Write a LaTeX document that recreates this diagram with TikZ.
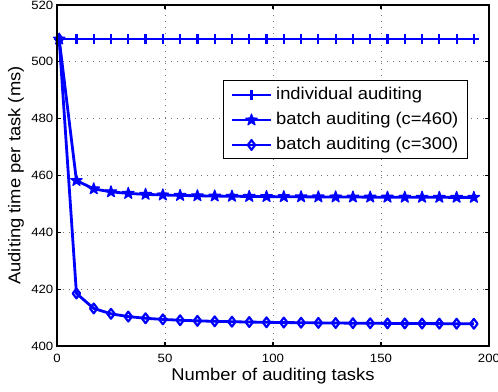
\documentclass[tikz,border=0pt]{standalone}
\usepackage{fontspec}
\setmainfont{Liberation Sans}
\usepackage{graphicx}
\usetikzlibrary{plotmarks}
\definecolor{mblue}{RGB}{0,0,255}
\newcommand{\tickfont}{\fontsize{12}{14}\selectfont}
\newcommand{\labfont}{\fontsize{17}{20}\selectfont}
\newcommand{\wtick}[1]{\scalebox{1.1}[1]{\tickfont #1}}
\newcommand{\wlab}[1]{\scalebox{1.08}[1]{\labfont #1}}
\pgfdeclareplotmark{fstar}{%
  \pgfpathmoveto{\pgfqpoint{0pt}{\pgfplotmarksize}}%
  \pgfpathlineto{\pgfqpoint{-0.235\pgfplotmarksize}{0.324\pgfplotmarksize}}%
  \pgfpathlineto{\pgfqpoint{-0.951\pgfplotmarksize}{0.309\pgfplotmarksize}}%
  \pgfpathlineto{\pgfqpoint{-0.380\pgfplotmarksize}{-0.124\pgfplotmarksize}}%
  \pgfpathlineto{\pgfqpoint{-0.588\pgfplotmarksize}{-0.809\pgfplotmarksize}}%
  \pgfpathlineto{\pgfqpoint{0pt}{-0.4\pgfplotmarksize}}%
  \pgfpathlineto{\pgfqpoint{0.588\pgfplotmarksize}{-0.809\pgfplotmarksize}}%
  \pgfpathlineto{\pgfqpoint{0.380\pgfplotmarksize}{-0.124\pgfplotmarksize}}%
  \pgfpathlineto{\pgfqpoint{0.951\pgfplotmarksize}{0.309\pgfplotmarksize}}%
  \pgfpathlineto{\pgfqpoint{0.235\pgfplotmarksize}{0.324\pgfplotmarksize}}%
  \pgfpathclose
  \pgfusepathqfillstroke
}
\tikzset{
  gridline/.style={black!55, line width=0.9pt, dash pattern=on 1.3pt off 4.7pt},
  axisline/.style={black, line width=1.2pt},
  series/.style={mblue, line width=2.8pt, line join=round},
  plusmk/.style={mark=+, mark size=4.8pt, mark options={solid, line width=2.2pt}},
  starmk/.style={mark=fstar, mark size=6pt, mark options={solid, fill=mblue, line width=1.2pt}},
  diamk/.style={mark=diamond, mark size=4.9pt, mark options={solid, line width=2.2pt}},
  ticklab/.style={inner sep=0pt},
  leglab/.style={inner sep=0pt, anchor=base west}
}
\begin{document}
\begin{tikzpicture}[x=1pt, y=1pt]
\useasboundingbox (0,0) rectangle (498,391);
\fill[white] (0,0) rectangle (498,391);
\begin{scope}[shift={(57,45)}, x=2.16pt, y=2.8417pt]
  % grid
  \foreach \gx in {50,100,150} \draw[gridline] (\gx,0) -- (\gx,120);
  \foreach \gy in {20,40,60,80,100} \draw[gridline] (0,\gy) -- (200,\gy);
  % ticks
  \foreach \gx in {50,100,150} {
    \draw[axisline] (\gx,0) -- ++(0pt,4.3pt);
    \draw[axisline] (\gx,120) -- ++(0pt,-4.3pt);
    \node[ticklab] (xt\gx) at ([yshift=-12.5pt]\gx,0) {\wtick{\gx}};
  }
  \node[ticklab] (xt0) at ([yshift=-12.5pt]0,0) {\wtick{0}};
  \node[ticklab] (xt200) at ([yshift=-12.5pt]200,0) {\wtick{200}};
  \foreach \gy/\lab in {0/400,20/420,40/440,60/460,80/480,100/500,120/520} {
    \draw[axisline] (0,\gy) -- ++(4.3pt,0pt);
    \draw[axisline] (200,\gy) -- ++(-4.3pt,0pt);
    \node[ticklab, anchor=east] (yt\lab) at ([xshift=-3.5pt]0,\gy) {\wtick{\lab}};
  }
  % data
  \draw[series, plusmk] plot[domain=1:193, samples=25] (\x, 108);
  \draw[series, diamk] plot[domain=1:193, samples=25] (\x, {7.3+100.7/\x});
  \draw[series, starmk] plot[domain=1:193, samples=25] (\x, {52+56/\x});
  % axes box
  \draw[axisline] (0,0) rectangle (200,120);
\end{scope}
% axis labels
\node[inner sep=0pt, anchor=base] (xlab) at (273,10.3) {\wlab{Number of auditing tasks}};
\node[inner sep=0pt, anchor=base, rotate=90] (ylab) at (20.5,215.5) {\wlab{Auditing time per task (ms)}};
% legend
\draw[black, line width=0.8pt, fill=white] (223.3,232.7) rectangle (467.7,311);
\draw[series] (231.7,296) -- (271,296);
\draw[series, plusmk] plot coordinates {(251.5,296)};
\draw[series] (231.7,271) -- (271,271);
\draw[series, starmk] plot coordinates {(251.5,271)};
\draw[series] (231.7,246) -- (271,246);
\draw[series, diamk] plot coordinates {(251.5,246)};
\node[leglab] (l1) at (276,291) {\wlab{individual auditing}};
\node[leglab] (l2) at (276,266) {\wlab{batch auditing (c=460)}};
\node[leglab] (l3) at (276,241) {\wlab{batch auditing (c=300)}};
\end{tikzpicture}
\end{document}
